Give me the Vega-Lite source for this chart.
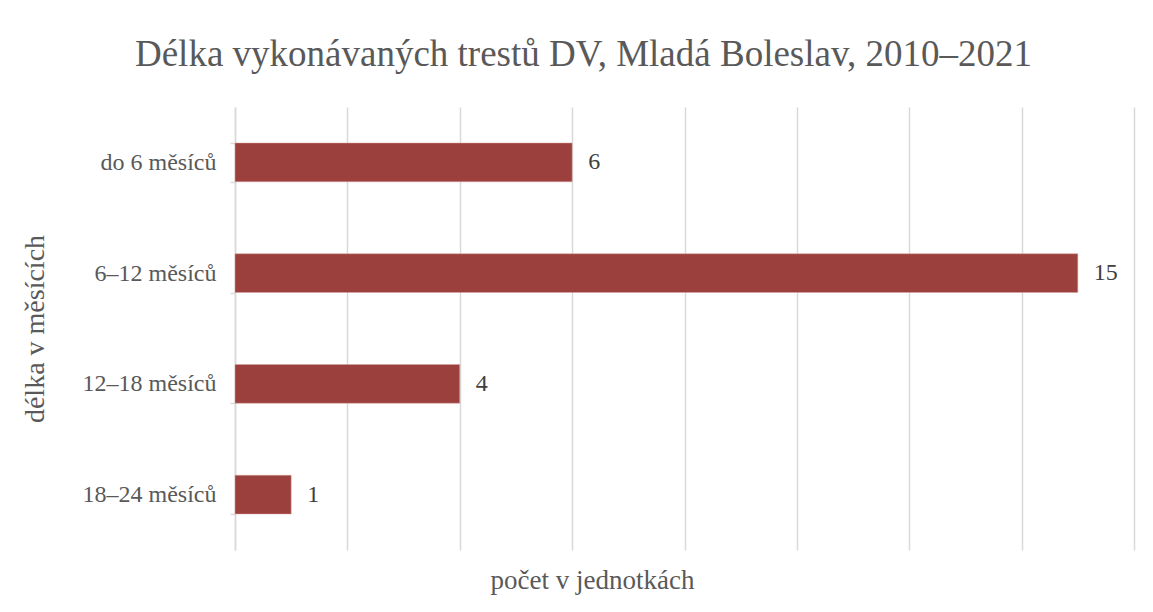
{
  "$schema": "https://vega.github.io/schema/vega-lite/v6.json",
  "width": 899,
  "height": 443,
  "autosize": {"type": "none"},
  "padding": {"left": 235, "top": 107, "right": 19, "bottom": 62},
  "background": "white",
  "title": {
    "text": "Délka vykonávaných trestů DV, Mladá Boleslav, 2010–2021",
    "font": "Liberation Serif",
    "fontSize": 37,
    "fontWeight": "normal",
    "color": "#595959",
    "anchor": "middle",
    "dx": -101,
    "offset": 21
  },
  "data": {
    "values": [
      {"delka": "do 6 měsíců", "pocet": 6},
      {"delka": "6–12 měsíců", "pocet": 15},
      {"delka": "12–18 měsíců", "pocet": 4},
      {"delka": "18–24 měsíců", "pocet": 1}
    ]
  },
  "encoding": {
    "y": {
      "field": "delka",
      "type": "nominal",
      "sort": null,
      "scale": {"paddingInner": 0.65, "paddingOuter": 0.325},
      "axis": {
        "title": "délka v měsících",
        "titleFont": "Liberation Serif",
        "titleFontSize": 28,
        "titleFontWeight": "normal",
        "titleColor": "#595959",
        "titleAngle": -90,
        "titleX": -200,
        "titleY": 221.5,
        "titleAlign": "center",
        "titleBaseline": "middle",
        "labelFont": "Liberation Serif",
        "labelFontSize": 24,
        "labelColor": "#595959",
        "labelPadding": 14,
        "tickBand": "extent",
        "tickColor": "#d9d9d9",
        "tickWidth": 1.5,
        "tickSize": 5,
        "domainColor": "#d9d9d9",
        "domainWidth": 1.5,
        "grid": false
      }
    }
  },
  "layer": [
    {
      "mark": {"type": "bar", "color": "#9c403e", "stroke": "#d9a09e", "strokeWidth": 0.5},
      "encoding": {
        "x": {
          "field": "pocet",
          "type": "quantitative",
          "scale": {"domain": [0, 16], "nice": false},
          "axis": {
            "values": [0, 2, 4, 6, 8, 10, 12, 14, 16],
            "labels": false,
            "ticks": false,
            "domain": false,
            "grid": true,
            "gridColor": "#d9d9d9",
            "gridWidth": 1.5,
            "title": "počet v jednotkách",
            "titleFont": "Liberation Serif",
            "titleFontSize": 27,
            "titleFontWeight": "normal",
            "titleColor": "#595959",
            "titleX": 357,
            "titleY": 38,
            "titleAlign": "center",
            "titleBaseline": "alphabetic"
          }
        }
      }
    },
    {
      "mark": {
        "type": "text",
        "align": "left",
        "baseline": "middle",
        "dx": 16,
        "font": "Liberation Serif",
        "fontSize": 24,
        "color": "#404040"
      },
      "encoding": {
        "x": {"field": "pocet", "type": "quantitative"},
        "text": {"field": "pocet", "type": "quantitative"}
      }
    }
  ],
  "config": {"view": {"stroke": null}}
}
